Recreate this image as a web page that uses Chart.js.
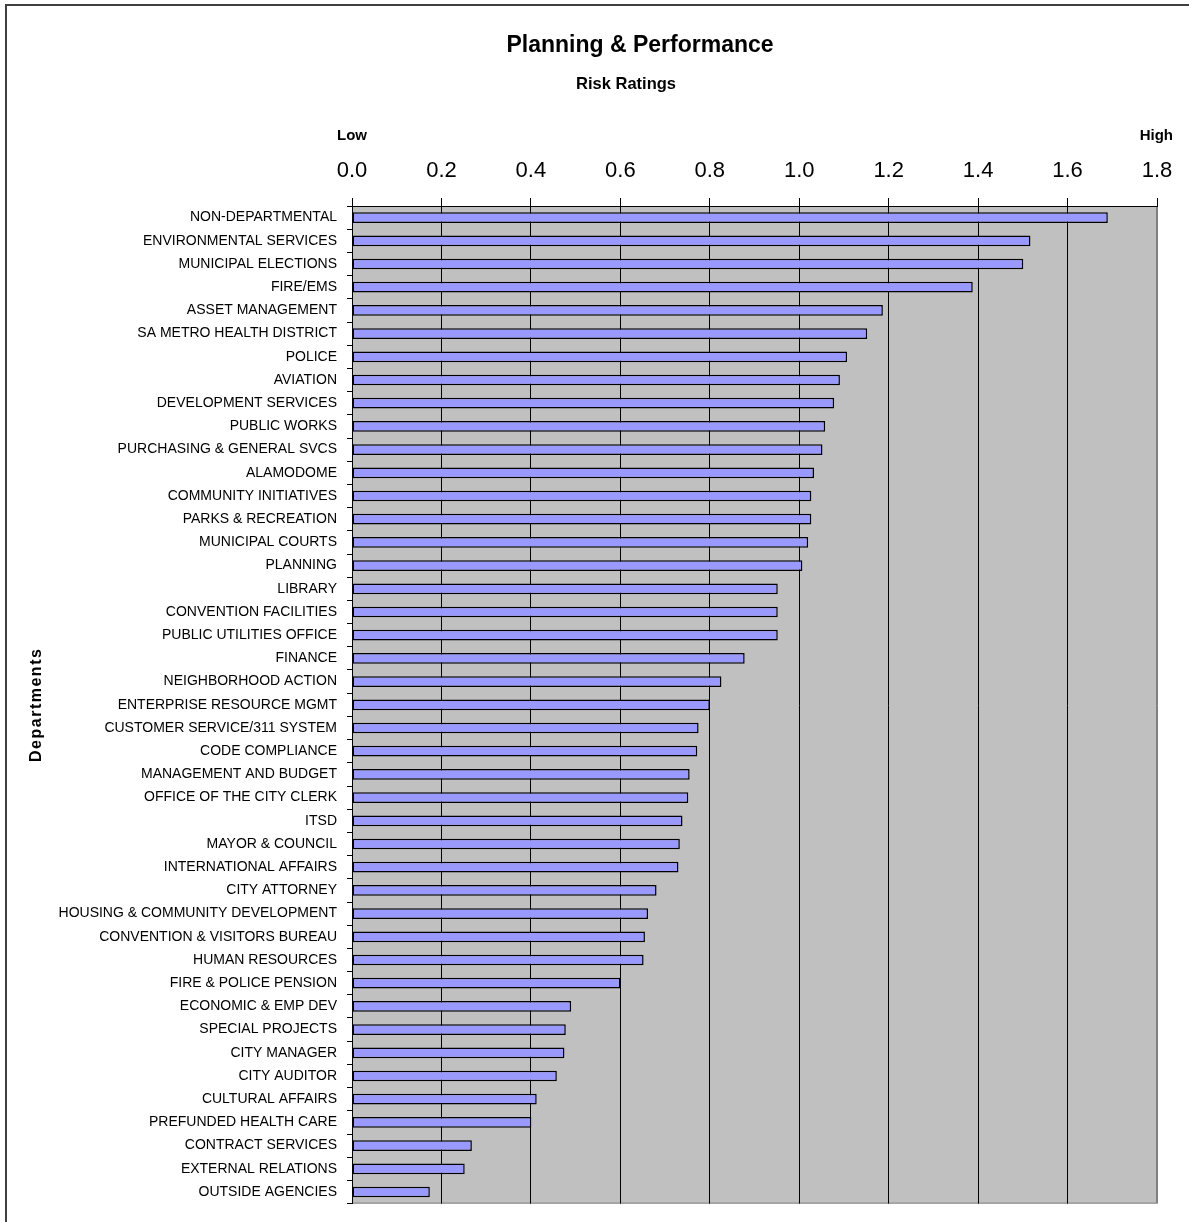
<!DOCTYPE html>
<html>
<head>
<meta charset="utf-8">
<script src="https://cdn.jsdelivr.net/npm/chart.js@4"></script>
<style>
  html, body { margin: 0; padding: 0; background: #fff; }
  canvas { display: block; }
</style>
</head>
<body>
<canvas id="riskChart" width="1189" height="1222"></canvas>
<script>
const departments = [
  'NON-DEPARTMENTAL', 'ENVIRONMENTAL SERVICES', 'MUNICIPAL ELECTIONS', 'FIRE/EMS',
  'ASSET MANAGEMENT', 'SA METRO HEALTH DISTRICT', 'POLICE', 'AVIATION',
  'DEVELOPMENT SERVICES', 'PUBLIC WORKS', 'PURCHASING & GENERAL SVCS', 'ALAMODOME',
  'COMMUNITY INITIATIVES', 'PARKS & RECREATION', 'MUNICIPAL COURTS', 'PLANNING',
  'LIBRARY', 'CONVENTION FACILITIES', 'PUBLIC UTILITIES OFFICE', 'FINANCE',
  'NEIGHBORHOOD ACTION', 'ENTERPRISE RESOURCE MGMT', 'CUSTOMER SERVICE/311 SYSTEM',
  'CODE COMPLIANCE', 'MANAGEMENT AND BUDGET', 'OFFICE OF THE CITY CLERK', 'ITSD',
  'MAYOR & COUNCIL', 'INTERNATIONAL AFFAIRS', 'CITY ATTORNEY',
  'HOUSING & COMMUNITY DEVELOPMENT', 'CONVENTION & VISITORS BUREAU', 'HUMAN RESOURCES',
  'FIRE & POLICE PENSION', 'ECONOMIC & EMP DEV', 'SPECIAL PROJECTS', 'CITY MANAGER',
  'CITY AUDITOR', 'CULTURAL AFFAIRS', 'PREFUNDED HEALTH CARE', 'CONTRACT SERVICES',
  'EXTERNAL RELATIONS', 'OUTSIDE AGENCIES'
];

const riskRatings = [
  1.690, 1.517, 1.501, 1.388,
  1.187, 1.152, 1.107, 1.091,
  1.078, 1.058, 1.052, 1.033,
  1.027, 1.027, 1.020, 1.007,
  0.952, 0.952, 0.952, 0.878,
  0.826, 0.800, 0.775,
  0.772, 0.755, 0.752, 0.739,
  0.733, 0.730, 0.681,
  0.662, 0.655, 0.652,
  0.600, 0.490, 0.478, 0.475,
  0.458, 0.413, 0.401, 0.268,
  0.252, 0.174
];

const axisMin = 0;
const axisMax = 1.8;
const axisStep = 0.2;

const FONT = 'Arial, "Liberation Sans", sans-serif';

// gray plot area, outer frame and the free-standing texts
const decorPlugin = {
  id: 'decor',
  beforeDraw(chart) {
    const { ctx, chartArea: a } = chart;
    ctx.save();
    ctx.fillStyle = '#C0C0C0';
    ctx.fillRect(a.left, a.top, a.right - a.left, a.bottom - a.top);
    ctx.strokeStyle = '#808080';
    ctx.lineWidth = 1;
    ctx.strokeRect(a.left + 0.5, a.top + 0.5, a.right - a.left - 1, a.bottom - a.top - 1);

    // outer chart border (right/bottom edges are outside the picture)
    ctx.strokeStyle = '#404040';
    ctx.lineWidth = 2;
    ctx.beginPath();
    ctx.moveTo(6, chart.height);
    ctx.lineTo(6, 5);
    ctx.lineTo(chart.width, 5);
    ctx.stroke();
    ctx.restore();
  },
  afterDraw(chart) {
    const { ctx, chartArea: a } = chart;
    ctx.save();
    ctx.fillStyle = '#000';
    ctx.textBaseline = 'alphabetic';

    ctx.textAlign = 'center';
    ctx.font = 'bold 23px ' + FONT;
    ctx.fillText('Planning & Performance', 640, 52);
    ctx.font = 'bold 16.5px ' + FONT;
    ctx.fillText('Risk Ratings', 626, 89);

    ctx.font = 'bold 15px ' + FONT;
    ctx.textAlign = 'left';
    ctx.fillText('Low', 337, 140);
    ctx.textAlign = 'right';
    ctx.fillText('High', 1173, 140);

    // rotated axis title
    ctx.translate(37, (a.top + a.bottom) / 2);
    ctx.rotate(-Math.PI / 2);
    ctx.textAlign = 'center';
    ctx.textBaseline = 'middle';
    ctx.font = 'bold 16px ' + FONT;
    ctx.letterSpacing = '1.5px';
    ctx.fillText('Departments', 0, 0);
    ctx.restore();
  }
};

const ctx = document.getElementById('riskChart').getContext('2d');

new Chart(ctx, {
  type: 'bar',
  data: {
    labels: departments,
    datasets: [{
      label: 'Risk Rating',
      data: riskRatings,
      backgroundColor: '#9999FF',
      borderColor: '#000000',
      borderWidth: 1.5,
      borderSkipped: false,
      categoryPercentage: 1,
      barPercentage: 0.46
    }]
  },
  options: {
    indexAxis: 'y',
    responsive: false,
    animation: false,
    layout: {
      padding: { top: 0, right: 32, bottom: 11, left: 0 }
    },
    plugins: {
      legend: { display: false },
      tooltip: { enabled: false }
    },
    scales: {
      x: {
        position: 'top',
        min: axisMin,
        max: axisMax,
        afterFit(scale) { scale.height = 206; },
        ticks: {
          stepSize: axisStep,
          color: '#000',
          padding: 14,
          font: { family: FONT, size: 22 },
          callback: (v) => Number(v).toFixed(1)
        },
        grid: {
          color: (c) => (c.index === 9 ? '#808080' : '#000'),
          tickColor: '#000',
          lineWidth: 1,
          tickLength: 8
        },
        border: { display: true, color: '#000', width: 1 }
      },
      y: {
        afterFit(scale) { scale.width = 352; },
        ticks: {
          color: '#000',
          padding: 10,
          autoSkip: false,
          font: { family: FONT, size: 14 }
        },
        grid: {
          offset: true,
          drawOnChartArea: false,
          color: '#000',
          tickLength: 5
        },
        border: { display: true, color: '#000', width: 1 }
      }
    }
  },
  plugins: [decorPlugin]
});
</script>
</body>
</html>
